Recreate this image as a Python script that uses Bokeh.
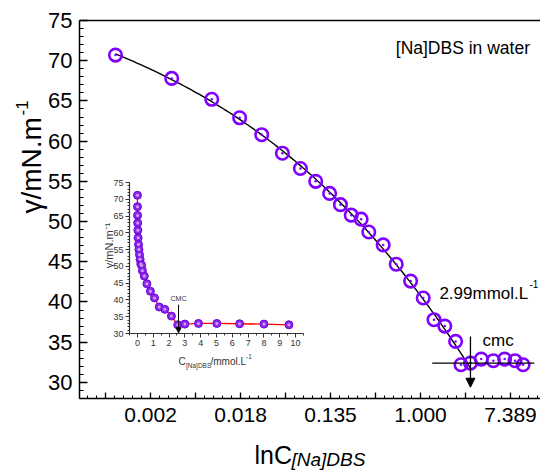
import numpy as np
from bokeh.plotting import figure
from bokeh.models import (Range1d, FixedTicker, LinearAxis, Label, Arrow,
                          NormalHead, ColumnDataSource)
from bokeh.embed import file_html
from bokeh.resources import INLINE

# ---------------- data ----------------
ln_c = [-6.78, -5.53, -4.64, -4.02, -3.53, -3.07, -2.67, -2.33, -2.02, -1.78,
        -1.54, -1.32, -1.15, -0.83, -0.54, -0.22, 0.06, 0.30, 0.54, 0.78,
        0.90, 1.11, 1.35, 1.62, 1.87, 2.10, 2.28]
gamma = [70.7, 67.8, 65.2, 62.9, 60.8, 58.5, 56.6, 55.0, 53.5, 52.1,
         50.8, 50.3, 48.7, 47.1, 44.7, 42.6, 40.5, 37.8, 37.0, 35.1,
         32.2, 32.4, 32.9, 32.7, 32.9, 32.7, 32.2]

inset_c = [0.001, 0.004, 0.010, 0.018, 0.029, 0.046, 0.069, 0.097, 0.133, 0.169,
           0.214, 0.267, 0.317, 0.436, 0.60, 0.82, 1.08, 1.38, 1.73, 2.15,
           2.55, 3.00, 3.86, 5.02, 6.46, 8.00, 9.58]
inset_gamma = [71.2, 67.8, 65.2, 62.9, 60.8, 58.5, 56.5, 55.0, 53.5, 52.1,
               50.7, 50.3, 48.7, 47.1, 44.8, 42.6, 40.6, 37.9, 37.2, 35.2,
               32.6, 32.8, 33.0, 33.0, 32.9, 32.8, 32.6]

x_major_ticks = [-7, -6, -5, -4, -3, -2, -1, 0, 1, 2]
x_tick_labels = {-6: "0.002", -4: "0.018", -2: "0.135", 0: "1.000", 2: "7.389"}
y_major_ticks = [30, 35, 40, 45, 50, 55, 60, 65, 70, 75]
inset_x_ticks = list(range(0, 11))
inset_y_ticks = [30, 35, 40, 45, 50, 55, 60, 65, 70, 75]

cmc_ln = 1.11
cmc_gamma = 32.4
cmc_text = "2.99mmol.L"
inset_cmc = 2.6
fit_end_index = 22

PURPLE = "#8000FF"
FONT = "Liberation Sans"
GREY = "#333333"


def lab(fig, x, y, text, size, **kw):
    params = dict(text_font=FONT, text_color="black", text_font_size=size,
                  text_align="left", text_baseline="middle")
    params.update(kw)
    fig.add_layout(Label(x=x, y=y, text=text, **params))


# ---------------- main figure ----------------
p = figure(width=540, height=470, x_range=Range1d(-7.58, 2.667), y_range=Range1d(28, 75),
           output_backend="svg", toolbar_location=None,
           min_border_left=79, min_border_right=0, min_border_top=20, min_border_bottom=72)
p.xgrid.visible = False
p.ygrid.visible = False
p.outline_line_color = None
p.background_fill_color = "white"

xa = p.xaxis[0]
xa.ticker = FixedTicker(ticks=x_major_ticks,
                        minor_ticks=[round(v, 1) for v in np.arange(-7.4, 2.7, 0.2)])
overrides = {t: "" for t in x_major_ticks}
overrides.update(x_tick_labels)
xa.major_label_overrides = overrides
ya = p.yaxis[0]
ya.ticker = FixedTicker(ticks=y_major_ticks, minor_ticks=list(range(28, 76)))
for ax in (xa, ya):
    ax.axis_line_width = 1.5
    ax.axis_line_color = "black"
    ax.major_tick_line_color = "black"
    ax.minor_tick_line_color = "black"
    ax.major_tick_line_width = 1.3
    ax.minor_tick_line_width = 1.1
    ax.major_tick_out = 0
    ax.minor_tick_out = 0
    ax.major_label_text_font = FONT
    ax.major_label_text_color = "black"
ya.major_label_standoff = 7
xa.major_label_standoff = 9
ya.major_tick_in = 8
ya.minor_tick_in = 4
xa.major_tick_in = 6
xa.minor_tick_in = 3
ya.major_label_text_font_size = "22px"
xa.major_label_text_font_size = "21px"

top_axis = LinearAxis(ticker=FixedTicker(ticks=[]), axis_line_width=1.5,
                      major_tick_line_color=None, minor_tick_line_color=None)
p.add_layout(top_axis, "above")

# fit curve through the data up to the cmc
coef = np.polyfit(ln_c[:fit_end_index], gamma[:fit_end_index], 3)
fit_x = np.linspace(ln_c[0], cmc_ln, 120)
p.line(fit_x, np.polyval(coef, fit_x), line_color="black", line_width=1.4)

src = ColumnDataSource(dict(x=ln_c, y=gamma))
p.scatter("x", "y", source=src, size=12.5, fill_color=None, line_color=PURPLE, line_width=2.6)
p.scatter("x", "y", source=src, size=2.5, fill_color=PURPLE, line_color=None)

# cmc cross and arrow
p.segment(x0=[cmc_ln - 0.85], y0=[cmc_gamma], x1=[cmc_ln + 1.42], y1=[cmc_gamma],
          line_color="black", line_width=1.3)
p.add_layout(Arrow(end=NormalHead(size=9, fill_color="black", line_color="black"),
                   x_start=cmc_ln, y_start=35.7, x_end=cmc_ln, y_end=29.4,
                   line_color="black", line_width=1.3))

lab(p, -0.55, 71.6, "[Na]DBS in water", "17.5px")
lab(p, 0.42, 41.0, cmc_text, "17px")
lab(p, 2.42, 42.2, "-1", "10px")
lab(p, 1.38, 35.2, "cmc", "17px")

# ---------------- inset figure (absolutely positioned over the main one) ----------------
p2 = figure(width=215, height=190, x_range=Range1d(-0.5, 10.5), y_range=Range1d(30, 75),
            output_backend="svg", toolbar_location=None,
            min_border_left=34, min_border_right=7, min_border_top=7, min_border_bottom=32)
p2.xgrid.visible = False
p2.ygrid.visible = False
p2.outline_line_color = None
p2.background_fill_color = None
p2.border_fill_color = None
p2.styles = {"position": "absolute", "left": "95px", "top": "175px"}

ia_x = p2.xaxis[0]
ia_y = p2.yaxis[0]
ia_x.ticker = FixedTicker(ticks=inset_x_ticks,
                          minor_ticks=[round(v, 1) for v in np.arange(-0.5, 10.6, 0.5)])
ia_y.ticker = FixedTicker(ticks=inset_y_ticks, minor_ticks=list(range(30, 76)))
for ax in (ia_x, ia_y):
    ax.axis_line_color = GREY
    ax.axis_line_width = 1.2
    ax.major_tick_line_color = GREY
    ax.minor_tick_line_color = GREY
    ax.major_tick_in = 0
    ax.major_tick_out = 4
    ax.minor_tick_in = 0
    ax.minor_tick_out = 2
    ax.major_label_text_font = FONT
    ax.major_label_text_font_size = "9px"
    ax.major_label_text_color = GREY
    ax.major_label_standoff = 2

p2.line(inset_c, inset_gamma, line_color="red", line_width=1.3)
p2.scatter(inset_c, inset_gamma, size=8, fill_color="#8A2BE2", line_color="#7000E0", line_width=1)
p2.scatter(inset_c, inset_gamma, size=3, fill_color="#C9A0FF", line_color=None)

p2.add_layout(Arrow(end=NormalHead(size=5, fill_color="black", line_color="black"),
                    x_start=inset_cmc, y_start=38.6, x_end=inset_cmc, y_end=30.2,
                    line_color="black", line_width=1))
lab(p2, inset_cmc, 40.3, "CMC", "7px", text_align="center", text_color=GREY)

# ---------------- transparent overlay carrying the axis titles (page pixels) ----------------
p3 = figure(width=540, height=470, x_range=Range1d(0, 540), y_range=Range1d(470, 0),
            x_axis_type=None, y_axis_type=None, output_backend="svg",
            toolbar_location=None, min_border=0)
p3.grid.visible = False
p3.outline_line_color = None
p3.background_fill_color = None
p3.border_fill_color = None
p3.styles = {"position": "absolute", "left": "0px", "top": "0px"}

# main y title
lab(p3, 31, 213, "γ/mN.m", "28px", angle=np.pi / 2, text_baseline="alphabetic")
lab(p3, 21, 115, "-1", "17px", angle=np.pi / 2, text_baseline="alphabetic")
# main x title
lab(p3, 254, 454, "lnC", "25px", text_baseline="alphabetic")
lab(p3, 291, 459, "[Na]DBS", "19px", text_baseline="alphabetic", text_font_style="italic")
# inset titles
lab(p3, 108, 245, "γ/mN.m⁻¹", "11px", angle=np.pi / 2, text_align="center",
    text_baseline="alphabetic", text_color=GREY)
lab(p3, 178, 361, "C", "10px", text_baseline="alphabetic", text_color=GREY)
lab(p3, 185.5, 364.5, "[Na]DBS", "6.5px", text_baseline="alphabetic", text_color=GREY)
lab(p3, 210, 361, "/mmol.L", "10px", text_baseline="alphabetic", text_color=GREY)
lab(p3, 245.5, 356, "-1", "6.5px", text_baseline="alphabetic", text_color=GREY)

open("out.html", "w").write(file_html([p, p2, p3], INLINE))
